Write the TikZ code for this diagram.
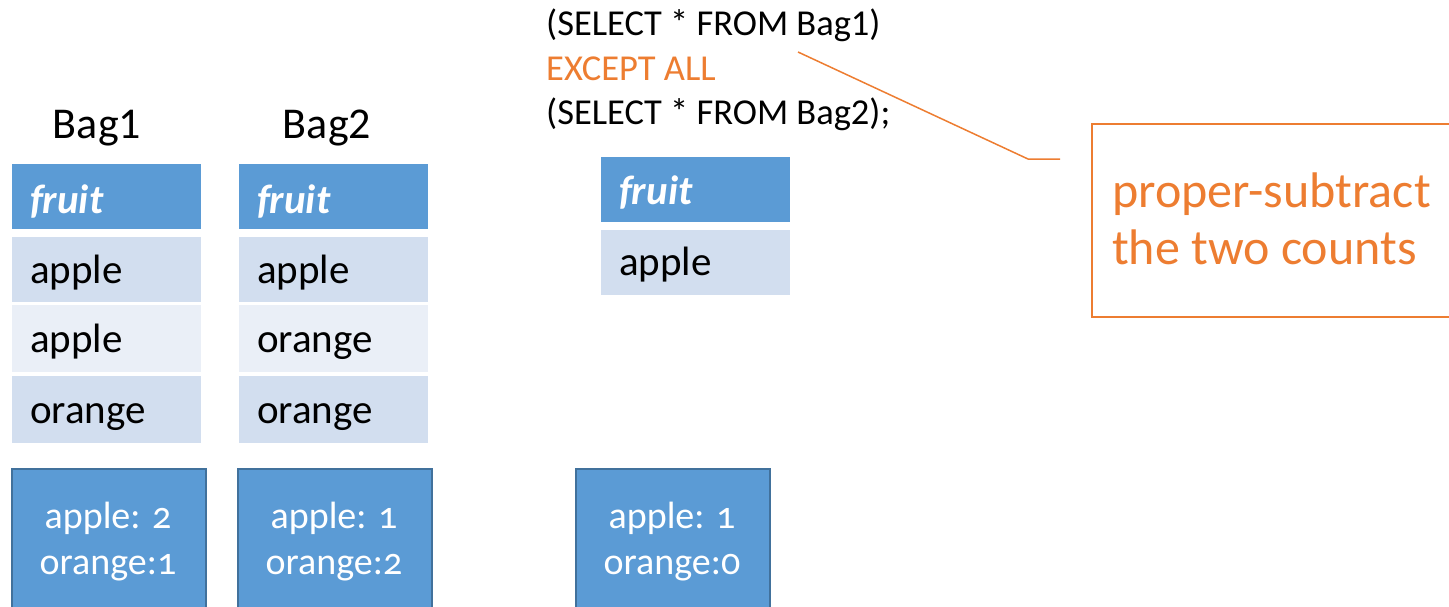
\documentclass[tikz,border=0pt]{standalone}
\usepackage{fontspec}
\setmainfont{Carlito}
\newfontfamily\boxfont{Carlito}[Numbers=OldStyle]
\definecolor{hdrblue}{HTML}{5B9BD5}
\definecolor{rowdark}{HTML}{D2DEEF}
\definecolor{rowlight}{HTML}{EAEFF7}
\definecolor{boxedge}{HTML}{41719C}
\definecolor{accent}{HTML}{ED7D31}
\tikzset{
  cell/.style={anchor=north west, minimum width=189pt, minimum height=65pt, inner xsep=18pt, inner ysep=0pt,
    outer sep=0pt, text width=153pt, align=left, font=\fontsize{41}{49}\selectfont, text height=31pt, text depth=4pt},
  hdrcell/.style={cell, fill=hdrblue, text=white, font=\fontsize{41}{49}\selectfont\bfseries\itshape, text height=34pt, text depth=1pt},
  darkcell/.style={cell, fill=rowdark, text=black},
  lightcell/.style={cell, fill=rowlight, text=black},
  countbox/.style={anchor=north west, fill=hdrblue, draw=boxedge, line width=2pt, minimum width=194pt, minimum height=180pt, inner sep=0pt},
  cnt/.style={anchor=base, text=white, inner sep=0pt, font=\fontsize{38}{45}\boxfont},
  baglabel/.style={anchor=base, inner sep=0pt, font=\fontsize{44}{53}\selectfont},
  sql/.style={anchor=base west, inner sep=0pt, font=\fontsize{36.5}{44}\selectfont},
  calltext/.style={anchor=base west, inner sep=0pt, text=accent, font=\fontsize{50}{60}\selectfont},
}
\begin{document}
\begin{tikzpicture}[x=1pt,y=-1pt]
\useasboundingbox (0,0) rectangle (1449,606);
\clip (0,0) rectangle (1449,606);
% labels
\node[baglabel] (lab1) at (97,138) {Bag1};
\node[baglabel] (lab2) at (327,138) {Bag2};
% Bag1 table
\node[hdrcell] (t1h) at (12,164) {fruit};
\node[darkcell] (t1r1) at (12,237) {apple};
\node[lightcell, minimum height=67pt] (t1r2) at (12,305) {apple};
\node[darkcell, minimum height=67pt] (t1r3) at (12,376) {orange};
% Bag2 table
\node[hdrcell] (t2h) at (239,164) {fruit};
\node[darkcell] (t2r1) at (239,237) {apple};
\node[lightcell, minimum height=67pt] (t2r2) at (239,305) {orange};
\node[darkcell, minimum height=67pt] (t2r3) at (239,376) {orange};
% result table
\node[hdrcell, text height=32pt, text depth=3pt] (t3h) at (601,157) {fruit};
\node[darkcell, text height=29pt, text depth=4pt] (t3r1) at (601,230) {apple};
% count boxes
\node[countbox] (c1) at (11,468) {};
\node[countbox] (c2) at (237,468) {};
\node[countbox] (c3) at (575,468) {};
\node[cnt] (c1a) at (108,528) {apple: 2};
\node[cnt] (c1b) at (108,574) {orange:1};
\node[cnt] (c2a) at (334,528) {apple: 1};
\node[cnt] (c2b) at (334,574) {orange:2};
\node[cnt] (c3a) at (672,528) {apple: 1};
\node[cnt] (c3b) at (672,574) {orange:0};
% SQL
\node[sql] (q1) at (546,35) {(SELECT * FROM Bag1)};
\node[sql, text=accent] (q2) at (546,80) {EXCEPT ALL};
\node[sql] (q3) at (546,124) {(SELECT * FROM Bag2);};
% callout
\node[anchor=north west, draw=accent, line width=1.5pt, minimum width=400pt, minimum height=193pt, inner sep=0pt] (call) at (1091,123) {};
\node[calltext] (ct1) at (1112,207) {proper-subtract};
\node[calltext] (ct2) at (1112,264) {the two counts};
\coordinate (ls) at (798,52);
\coordinate (lk) at (1028,159);
\coordinate (le) at (1060,159);
\draw[accent, line width=1.5pt] (ls) -- (lk) -- (le);
\end{tikzpicture}
\end{document}
